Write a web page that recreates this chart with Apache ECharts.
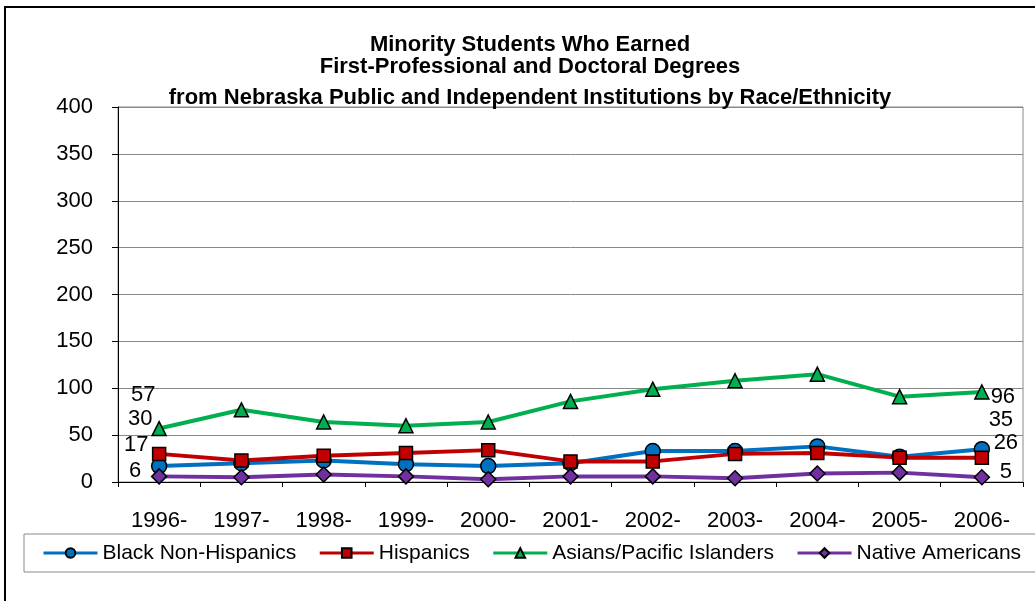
<!DOCTYPE html>
<html>
<head>
<meta charset="utf-8">
<script src="https://cdn.jsdelivr.net/npm/echarts@6/dist/echarts.min.js"></script>
<style>
  html, body { margin: 0; padding: 0; background: #fff; }
  #frame { position: absolute; left: 4px; top: 6px; width: 1100px; height: 700px;
           border-left: 2px solid #000; border-top: 2px solid #000; }
  #chart { position: absolute; left: 0; top: 0; width: 1035px; height: 601px; }
</style>
</head>
<body>
<div id="frame"></div>
<div id="chart"></div>
<script>
var years = ["1996-", "1997-", "1998-", "1999-", "2000-", "2001-", "2002-", "2003-", "2004-", "2005-", "2006-"];
var blackNonHispanics = [17, 20, 23, 19, 17, 20, 33, 33, 38, 27, 35];
var hispanics = [30, 23, 28, 31, 34, 22, 22, 30, 31, 26, 26];
var asiansPacific = [57, 77, 64, 60, 64, 86, 99, 108, 115, 91, 96];
var nativeAmericans = [6, 5, 8, 6, 3, 6, 6, 4, 9, 10, 5];

var FONT = "Liberation Sans, Arial, sans-serif";

// only the first and last point of each line carry a value label
function withEndLabels(values, firstOffset, lastOffset) {
  return values.map(function (v, i) {
    if (i === 0 || i === values.length - 1) {
      return {
        value: v,
        label: {
          show: true,
          position: "inside",
          offset: i === 0 ? firstOffset : lastOffset,
          color: "#000",
          fontSize: 22,
          fontFamily: FONT
        }
      };
    }
    return v;
  });
}

function lineSeries(name, data, color, symbol, size) {
  return {
    name: name,
    type: "line",
    data: data,
    symbol: symbol,
    symbolSize: size,
    lineStyle: { color: color, width: 4 },
    itemStyle: { color: color, borderColor: "#000", borderWidth: 1.5 },
    emphasis: { disabled: true }
  };
}

var chartDom = document.getElementById("chart");
var myChart = echarts.init(chartDom);
var option = {
  animation: false,
  backgroundColor: "transparent",
  title: [
    {
      text: "Minority Students Who Earned\nFirst-Professional and Doctoral Degrees",
      left: 525, top: 29, textAlign: "center",
      textStyle: { fontFamily: FONT, fontSize: 22, fontWeight: "bold", color: "#000", lineHeight: 22 }
    },
    {
      text: "from Nebraska Public and Independent Institutions by Race/Ethnicity",
      left: 525, top: 82, textAlign: "center",
      textStyle: { fontFamily: FONT, fontSize: 22, fontWeight: "bold", color: "#000", lineHeight: 22 }
    }
  ],
  legend: {
    left: 24, top: 534, width: 1200,
    padding: [8, 80, 8, 18],
    itemGap: 22,
    itemWidth: 54, itemHeight: 12,
    borderColor: "#888", borderWidth: 1,
    lineStyle: { width: 3 },
    textStyle: { fontFamily: FONT, fontSize: 21, color: "#000", lineHeight: 22 },
    data: ["Black Non-Hispanics", "Hispanics", "Asians/Pacific Islanders", "Native Americans"]
  },
  grid: {
    left: 118, top: 107, right: 12, bottom: 119,
    show: true, borderColor: "#888", borderWidth: 1, containLabel: false
  },
  xAxis: {
    type: "category",
    data: years,
    boundaryGap: true,
    axisLine: { lineStyle: { color: "#000", width: 1 } },
    axisTick: { show: true, inside: false, length: 5, alignWithLabel: false, lineStyle: { color: "#000" } },
    axisLabel: { margin: 28, color: "#000", fontSize: 22, fontFamily: FONT },
    splitLine: { show: false }
  },
  yAxis: {
    type: "value",
    min: 0, max: 400, interval: 50,
    axisLine: { show: true, lineStyle: { color: "#000", width: 1 } },
    axisTick: { show: true, length: 6, lineStyle: { color: "#000" } },
    axisLabel: { margin: 25, color: "#000", fontSize: 22, fontFamily: FONT },
    splitLine: { lineStyle: { color: "#888", width: 1 } }
  },
  series: [
    lineSeries("Black Non-Hispanics", withEndLabels(blackNonHispanics, [-23, -21], [19, -29]), "#0070C0", "circle", 15),
    lineSeries("Hispanics", withEndLabels(hispanics, [-19, -35], [24, -15]), "#C00000", "rect", 13),
    lineSeries("Asians/Pacific Islanders", withEndLabels(asiansPacific, [-16, -34], [21, 5]), "#00B050", "triangle", 14),
    lineSeries("Native Americans", withEndLabels(nativeAmericans, [-24, -5], [24, -5]), "#7030A0", "diamond", 15)
  ]
};

option && myChart.setOption(option);
</script>
</body>
</html>
